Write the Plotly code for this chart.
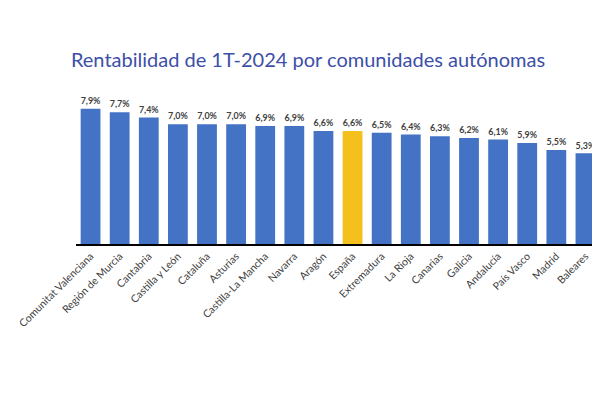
import plotly.graph_objects as go

regions = ["Comunitat Valenciana","Región de Murcia","Cantabria","Castilla y León","Cataluña","Asturias",
           "Castilla-La Mancha","Navarra","Aragón","España","Extremadura","La Rioja","Canarias","Galicia",
           "Andalucía","País Vasco","Madrid","Baleares"]
values = [7.9,7.7,7.4,7.0,7.0,7.0,6.9,6.9,6.6,6.6,6.5,6.4,6.3,6.2,6.1,5.9,5.5,5.3]
labels = [f"<b>{v:.1f}</b>".replace(".", ",") + "<b>%</b>" for v in values]
colors = ["#F4C01E" if r == "España" else "#4472C4" for r in regions]

fig = go.Figure(go.Bar(
    x=regions, y=values, text=labels, textposition="outside",
    textfont=dict(size=10, color="#404040", family="Lato"),
    marker=dict(color=colors, line=dict(width=0)), width=0.68, cliponaxis=False))
fig.update_layout(
    width=600, height=400, plot_bgcolor="white", paper_bgcolor="white",
    margin=dict(l=68, r=8, t=82, b=164), showlegend=False,
    title=dict(text="Rentabilidad de 1T-2024 por comunidades autónomas", x=0.5, xanchor="center",
               y=0.85, yanchor="middle", font=dict(size=20, color="#3D4FA8", family="Lato")),
    font=dict(family="Lato", color="#404040"),
)
fig.update_layout(title_y=0.87)
fig.update_xaxes(tickangle=-45, tickfont=dict(size=10.5, color="#404040"), showline=True,
                 linecolor="black", linewidth=2, ticks="")
fig.update_yaxes(range=[0, 9], visible=False)
fig.write_html("out.html")
